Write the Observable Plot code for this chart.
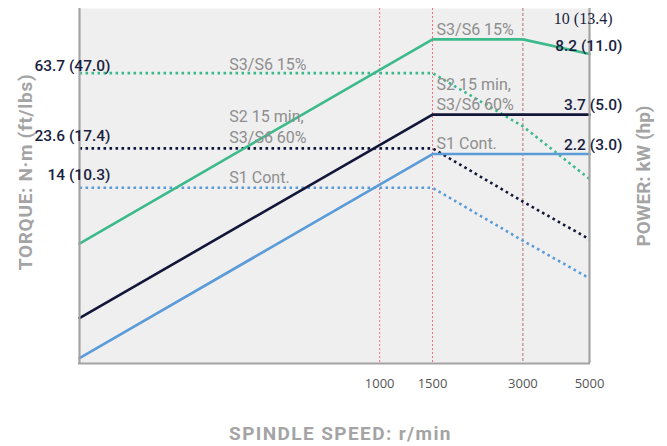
<!DOCTYPE html>
<html>
<head>
<meta charset="utf-8">
<script src="https://cdn.jsdelivr.net/npm/d3@7"></script>
<script src="https://cdn.jsdelivr.net/npm/@observablehq/plot@0.6"></script>
<style>
  html, body { margin: 0; padding: 0; background: #ffffff; }
  #chart svg { display: block; }
</style>
</head>
<body>
<div id="chart"></div>
<script>
// ---- Data (speeds in r/min, y = relative chart level 0..100, schematic) ----
const tickSpeeds = [1000, 1500, 3000, 5000];
const markerSpeeds = [1000, 1500];
const cornerSpeed = [3000];

// Power curves (solid)
const powerS3Speeds = [100, 1500, 3000, 5000];
const powerS3Level  = [33.8, 91.3, 91.3, 87.2];
const powerS2Speeds = [100, 1500, 5000];
const powerS2Level  = [12.8, 70.1, 70.1];
const powerS1Speeds = [100, 1500, 5000];
const powerS1Level  = [1.5, 59.0, 59.0];

// Torque curves (dotted)
const torqueSpeeds   = [100, 1500, 3000, 5000];
const torqueS3Level  = [81.8, 81.8, 66.8, 52.0];
const torqueS2Level  = [60.6, 60.6, 45.6, 35.0];
const torqueS1Level  = [49.5, 49.5, 34.6, 24.0];

// Duty labels
const dutyLabels    = ["S3/S6 15%", "S2 15 min,\nS3/S6 60%", "S1 Cont.",
                       "S3/S6 15%", "S2 15 min,\nS3/S6 60%", "S1 Cont."];
const dutySpeeds    = [306, 306, 306, 1500, 1500, 1500];
const dutyLevels    = [84.6, 67.0, 52.7, 94.5, 76.1, 62.3];

// Torque value labels (left)
const torqueLabels = ["63.7 (47.0)", "23.6 (17.4)", "14 (10.3)"];
const torqueLabelLevels = [83.9, 64.2, 53.0];

// Power value labels (right)
const powerLabels = ["8.2 (11.0)", "3.7 (5.0)", "2.2 (3.0)"];
const powerLabelLevels = [89.3, 72.7, 61.4];
const peakLabel = ["10 (13.4)"];
const peakLabelLevel = [97.0];

const xTitle = "SPINDLE SPEED: r/min";
const yTitleLeft = "TORQUE: N·m (ft/lbs)";
const yTitleRight = "POWER: kW (hp)";

// ---- Build tables ----
const toRows = (xs, ys, name) => xs.map((x, i) => ({speed: x, level: ys[i], name}));
const powerRows = [
  ...toRows(powerS3Speeds, powerS3Level, "S3"),
  ...toRows(powerS2Speeds, powerS2Level, "S2"),
  ...toRows(powerS1Speeds, powerS1Level, "S1")
];
const torqueRows = [
  ...toRows(torqueSpeeds, torqueS3Level, "S3"),
  ...toRows(torqueSpeeds, torqueS2Level, "S2"),
  ...toRows(torqueSpeeds, torqueS1Level, "S1")
];
const dutyRows = dutyLabels.map((t, i) => ({text: t, speed: dutySpeeds[i], level: dutyLevels[i]}));
const torqueLabelRows = torqueLabels.map((t, i) => ({text: t, speed: 100, level: torqueLabelLevels[i]}));
const powerLabelRows = powerLabels.map((t, i) => ({text: t, speed: 5000, level: powerLabelLevels[i]}));
const peakRows = peakLabel.map((t, i) => ({text: t, speed: 5000, level: peakLabelLevel[i]}));

const colors = {S3: "#3dba8b", S2: "#121638", S1: "#5b9bd8"};
const navy = "#1b1f3f";
const gray = "#8e8e8e";
const titleGray = "#a4a4a4";

const chart = Plot.plot({
  width: 667,
  height: 446,
  marginLeft: 79,
  marginRight: 78,
  marginTop: 8,
  marginBottom: 83,
  style: {fontFamily: "Roboto, sans-serif", background: "#ffffff", overflow: "visible"},
  x: {type: "log", domain: [100, 5000]},
  y: {domain: [0, 100]},
  color: {domain: ["S3", "S2", "S1"], range: [colors.S3, colors.S2, colors.S1]},
  marks: [
    Plot.frame({fill: "#efefef", stroke: null}),
    // vertical speed markers
    Plot.ruleX(markerSpeeds, {stroke: "#ee6f7f", strokeWidth: 1, strokeDasharray: "2,2"}),
    Plot.ruleX(cornerSpeed, {stroke: "#b07474", strokeWidth: 1, strokeDasharray: "3,2"}),
    // torque (dotted)
    Plot.line(torqueRows, {x: "speed", y: "level", z: "name", stroke: "name", strokeWidth: 2.6, strokeDasharray: "2.6,3.4", strokeLinecap: "butt"}),
    // power (solid)
    Plot.line(powerRows, {x: "speed", y: "level", z: "name", stroke: "name", strokeWidth: 2.6}),
    // frame borders
    Plot.ruleX([100, 5000], {stroke: "#a3a3a3", strokeWidth: 2.2}),
    Plot.ruleY([0], {stroke: "#a3a3a3", strokeWidth: 2.2, insetLeft: -1, insetRight: -1}),
    // x axis
    Plot.axisX({ticks: tickSpeeds, tickFormat: d => String(d), tickSize: 0, tickPadding: 15, fontSize: 13, color: "#555", label: null, fontFamily: "Open Sans, sans-serif"}),
    Plot.axisY({ticks: [], label: null, tickSize: 0}),
    // duty labels
    Plot.text(dutyRows, {x: "speed", y: "level", text: "text", textAnchor: "start", dx: 4, fontSize: 16, fill: gray, lineHeight: 1.3, lineAnchor: "middle"}),
    // torque values
    Plot.text(torqueLabelRows, {x: "speed", y: "level", text: "text", textAnchor: "end", dx: 31, fontSize: 15.5, fontWeight: 500, fill: navy, lineAnchor: "middle"}),
    // power values
    Plot.text(powerLabelRows, {x: "speed", y: "level", text: "text", textAnchor: "end", dx: 33, fontSize: 15.5, fontWeight: 500, fill: navy, lineAnchor: "middle"}),
    Plot.text(peakRows, {x: "speed", y: "level", text: "text", textAnchor: "end", dx: 23, fontSize: 16, fill: navy, fontFamily: "Liberation Serif, serif", lineAnchor: "middle"}),
    // titles
    Plot.text([xTitle], {frameAnchor: "bottom", textAnchor: "middle", lineAnchor: "middle", dx: 6, dy: 70, fontSize: 19, fontWeight: 700, fill: titleGray}),
    Plot.text([yTitleLeft], {frameAnchor: "left", textAnchor: "middle", lineAnchor: "middle", rotate: -90, dx: -54, dy: -14, fontSize: 19, fontWeight: 700, fill: titleGray}),
    Plot.text([yTitleRight], {frameAnchor: "right", textAnchor: "middle", lineAnchor: "middle", rotate: -90, dx: 54, dy: -10, fontSize: 19, fontWeight: 700, fill: titleGray})
  ]
});
// letter spacing for the axis titles
const spacing = new Map([[xTitle, "1.4px"], [yTitleLeft, "0.7px"], [yTitleRight, "0px"]]);
d3.select(chart).selectAll("text").each(function() {
  const t = this.textContent;
  if (spacing.has(t)) this.style.letterSpacing = spacing.get(t);
});
document.getElementById("chart").appendChild(chart);
</script>
</body>
</html>
